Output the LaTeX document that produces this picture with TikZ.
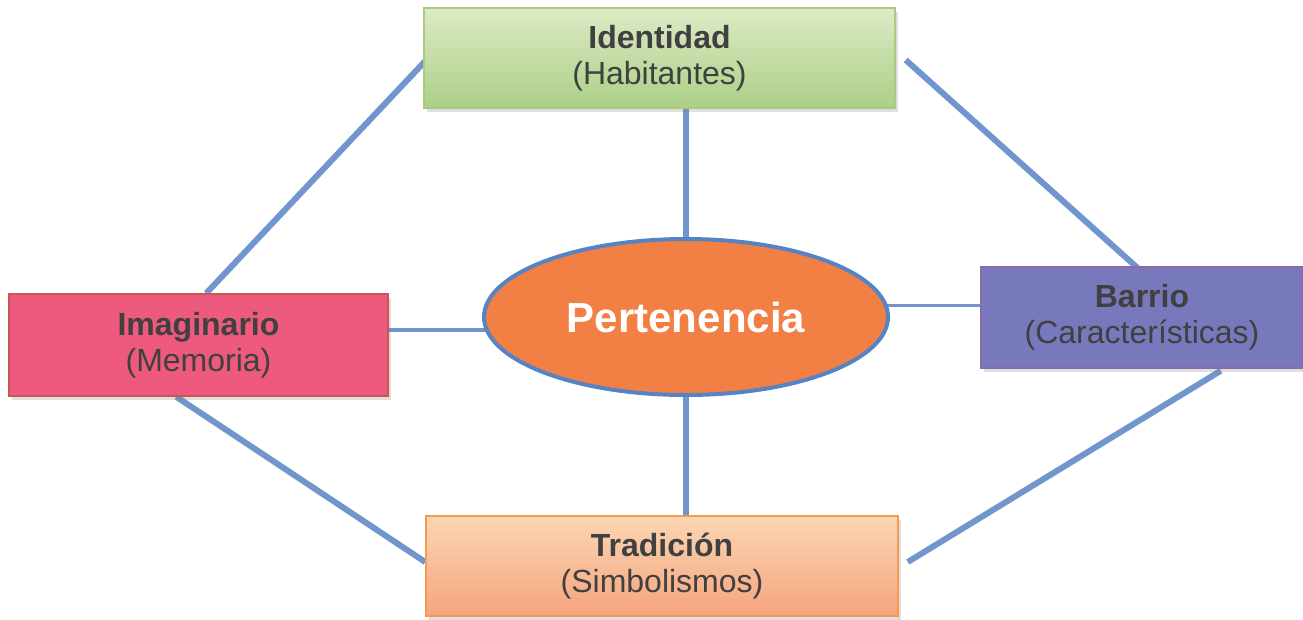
\documentclass[tikz,border=0pt]{standalone}
\usepackage{fontspec}
\setmainfont{Liberation Sans}
\usetikzlibrary{shapes.geometric,shadows,backgrounds,calc}
\definecolor{txt}{HTML}{404040}
\definecolor{conncol}{HTML}{7096CD}
\definecolor{greentop}{HTML}{DDEAC6}
\definecolor{greenbot}{HTML}{ABD087}
\definecolor{greenbd}{HTML}{A9CB80}
\definecolor{pinkfill}{HTML}{EE5A7D}
\definecolor{pinkbd}{HTML}{C9564F}
\definecolor{purplefill}{HTML}{7878BC}
\definecolor{purplebd}{HTML}{8A6AA8}
\definecolor{orangetop}{HTML}{FBD6B4}
\definecolor{orangebot}{HTML}{F5A47D}
\definecolor{orangebd}{HTML}{F79A50}
\definecolor{ellfill}{HTML}{F28044}
\definecolor{ellbd}{HTML}{5683C4}
\begin{document}
\begin{tikzpicture}[x=1pt,y=-1pt,
  box/.style={rectangle,inner sep=0pt,align=center,text=txt,line width=1.5pt,
    font=\fontsize{32}{36}\selectfont,
    drop shadow={shadow xshift=3pt,shadow yshift=-4pt,opacity=0.25}},
  conn/.style={draw=conncol,line width=6pt},
  thinconn/.style={draw=conncol,line width=3.5pt}]
\useasboundingbox (0,0) rectangle (1303,619);
\node[box,top color=greentop,bottom color=greenbot,draw=greenbd,
  minimum width=471pt,minimum height=100pt] (id) at (659.5,58)
  {\textbf{Identidad}\\(Habitantes)};
\node[box,fill=pinkfill,draw=pinkbd,
  minimum width=379pt,minimum height=102pt] (im) at (198.5,345)
  {\textbf{Imaginario}\\(Memoria)};
\node[box,fill=purplefill,draw=purplebd,
  minimum width=322pt,minimum height=101pt] (ba) at (1142,317.5)
  {\textbf{Barrio}\\(Características)};
\node[box,top color=orangetop,bottom color=orangebot,draw=orangebd,
  minimum width=472pt,minimum height=100pt] (tr) at (662,566)
  {\textbf{Tradición}\\(Simbolismos)};
\node[ellipse,fill=ellfill,draw=ellbd,line width=4pt,inner sep=0pt,
  minimum width=404pt,minimum height=156pt,text=white,
  font=\fontsize{42}{46}\selectfont\bfseries] (el) at (686,317) {Pertenencia};
\coordinate (a1) at ($(im.east)+(-8,-15)$);
\coordinate (a2) at ($(ba.west)+(0,-12)$);
\begin{scope}[on background layer]
\draw[conn] (el.north |- id.south) -- (el.north);
\draw[conn] (el.south) -- (el.south |- tr.north);
\draw[thinconn] (a1) -- ($(el.west |- a1)+(14,0)$);
\draw[thinconn] ($(el.east |- a2)+(-6,0)$) -- (a2);
\draw[conn] ($(id.west)+(3,2)$) -- ($(im.north west)+(198,0)$);
\draw[conn] ($(id.east)+(10,2)$) -- ($(ba.north west)+(161,5)$);
\draw[conn] ($(im.south west)+(168,0)$) -- ($(tr.west)+(0,-4)$);
\draw[conn] ($(ba.south east)+(-83,2)$) -- ($(tr.east)+(9,-4)$);
\end{scope}
\end{tikzpicture}
\end{document}
